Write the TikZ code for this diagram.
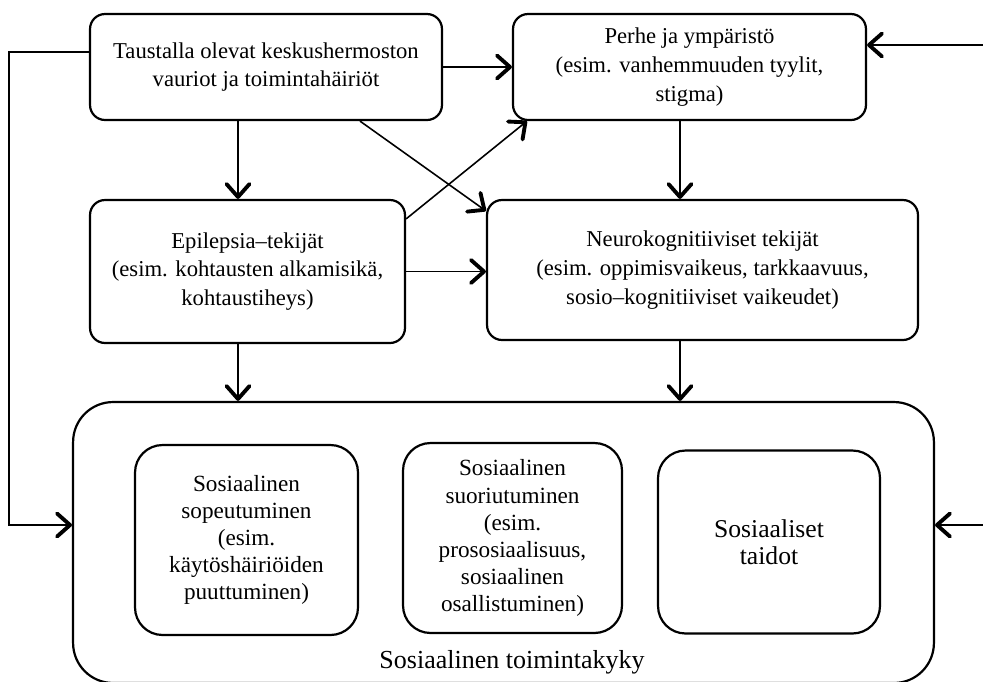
\documentclass[tikz,border=0pt]{standalone}
\usepackage{fontspec}
\setmainfont{Liberation Serif}
\usetikzlibrary{arrows.meta}

\tikzset{
  box/.style={draw,line width=1.25pt,rounded corners=0.3cm,align=center,inner sep=2pt},
  arr/.style={line width=0.9pt,-{Straight Barb[length=2.6mm,width=4.6mm,line width=2.2pt,round]}}
}

\begin{document}
\begin{tikzpicture}[x=0.02cm,y=-0.02cm,font=\fontsize{12.9}{16.4}\selectfont]
        \clip (0,0) rectangle (983,681);
        \node[box,minimum width=7.04cm,minimum height=2.12cm] (taust) at (266,67) {Taustalla olevat keskushermoston\\vauriot ja toimintahäiriöt};
        \node[box,minimum width=7.06cm,minimum height=2.12cm] (perhe) at (689.5,67) {Perhe ja ympäristö\\(esim. vanhemmuuden tyylit,\\stigma)};
        \node[box,minimum width=6.3cm,minimum height=2.86cm] (epil) at (247.5,271.5) {Epilepsia--tekijät\\(esim. kohtausten alkamisikä,\\kohtaustiheys)};
        \node[box,minimum width=8.62cm,minimum height=2.8cm] (neuro) at (702.5,270) {Neurokognitiiviset tekijät\\(esim. oppimisvaikeus, tarkkaavuus,\\sosio--kognitiiviset vaikeudet)};
        \node[draw,line width=1.25pt,rounded corners=0.8cm,minimum width=17.22cm,minimum height=5.62cm] (toim) at (503.5,542.5) {};
        \node[box,rounded corners=0.55cm,minimum width=4.46cm,minimum height=3.8cm,font=\fontsize{13.2}{15.4}\selectfont] (sopeu) at (246.5,540) {Sosiaalinen\\sopeutuminen\\(esim.\\käytöshäiriöiden\\puuttuminen)};
        \node[box,rounded corners=0.55cm,minimum width=4.38cm,minimum height=3.8cm,font=\fontsize{13.2}{15.4}\selectfont] (suori) at (512.5,538) {Sosiaalinen\\suoriutuminen\\(esim.\\prososiaalisuus,\\sosiaalinen\\osallistuminen)};
        \node[box,rounded corners=0.55cm,minimum width=4.44cm,minimum height=3.66cm,font=\fontsize{14.6}{15.5}\selectfont] (taidot) at (769,542) {Sosiaaliset\\taidot};
        \node[font=\fontsize{14.8}{17}\selectfont] (toimlab) at (512,662) {Sosiaalinen toimintakyky};
        \coordinate (inP) at (983,45);
        \coordinate (inT) at (983,525);
        \draw[arr] (taust) -- (perhe);
        \draw[arr] ([yshift=3mm]taust.west) -- ++(-80,0) |- ([yshift=3.5mm]toim.west);
        \draw[arr] ([xshift=-0.56cm]taust.south) -- ([xshift=-0.19cm]epil.north);
        \draw[arr] ([xshift=1.88cm]taust.south) -- ([yshift=-0.24cm]neuro.north west);
        \draw[arr] ([yshift=-0.4cm]epil.north east) -- ([xshift=0.3cm]perhe.south west);
        \draw[arr] (epil.east) -- (epil.east -| neuro.west);
        \draw[arr] ([xshift=-0.19cm]perhe.south) -- ([xshift=-0.45cm]neuro.north);
        \draw[arr] ([xshift=-0.19cm]epil.south) -- ([xshift=-0.19cm]epil.south |- toim.north);
        \draw[arr] ([xshift=-0.45cm]neuro.south) -- ([xshift=-0.45cm]neuro.south |- toim.north);
        \draw[arr] (inP) -- (inP -| perhe.east);
        \draw[arr] (inT) -- (inT -| toim.east);
\end{tikzpicture}
\end{document}
